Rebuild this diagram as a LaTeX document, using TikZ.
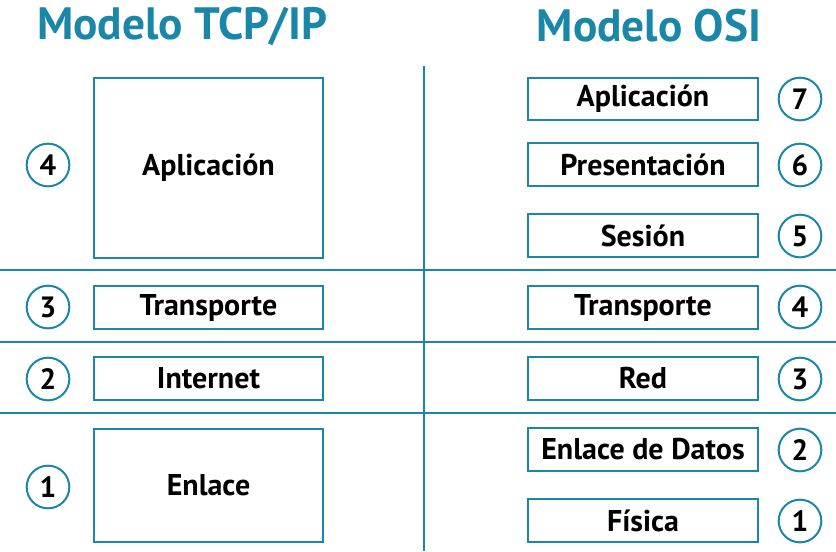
\documentclass[tikz,border=0pt]{standalone}
\usepackage{fontspec}
\setmainfont{PT Sans}
\usepackage{tikz}
\usetikzlibrary{positioning}
\definecolor{tcpblue}{HTML}{1B87A8}
\definecolor{ink}{HTML}{000000}
\tikzset{
  layer/.style ={draw=tcpblue, line width=1.5pt, fill=white,
                 minimum width=172pt, minimum height=32pt, inner sep=0pt,
                 font=\fontsize{22.5}{26}\selectfont\bfseries, text=ink},
  num/.style   ={circle, draw=tcpblue, line width=1.5pt, minimum size=32pt,
                 inner sep=0pt, font=\fontsize{22}{26}\selectfont\bfseries, text=ink},
  title/.style ={font=\fontsize{34}{40}\selectfont\bfseries, text=tcpblue},
  divider/.style={draw=tcpblue, line width=1.5pt}
}
\begin{document}
\begin{tikzpicture}[x=0.75pt, y=-0.75pt]
  \useasboundingbox (0,0) rectangle (836,551);
  % dividers
  \draw[divider] (424,66) -- (424,551);
  \draw[divider] (0,270) -- (836,270);
  \draw[divider] (0,342) -- (836,342);
  \draw[divider] (0,413) -- (836,413);
  % titles
  \node[title] (tcpt) at (182,26) {Modelo TCP/IP};
  \node[title] (osit) at (649,26) {Modelo OSI};
  % TCP/IP
  \node[layer, minimum height=135pt] (tapp) at (208.5,168) {Aplicación};
  \node[layer] (ttra) at (208.5,307.5) {Transporte};
  \node[layer] (tint) at (208.5,378.5) {Internet};
  \node[layer, minimum height=85pt] (tenl) at (208.5,485.5) {Enlace};
  \node[num] (tn4) at (48,165) {4};
  \node[num] (tn3) at (48,307) {3};
  \node[num] (tn2) at (48,379) {2};
  \node[num] (tn1) at (48,487) {1};
  % OSI
  \node[layer] (oapp) at (643,99) {Aplicación};
  \node[layer] (opre) at (643,164.5) {Presentación};
  \node[layer] (oses) at (643,235.5) {Sesión};
  \node[layer] (otra) at (643,307.5) {Transporte};
  \node[layer] (ored) at (643,378.5) {Red};
  \node[layer] (oenl) at (643,449.5) {Enlace de Datos};
  \node[layer] (ofis) at (643,520.5) {Física};
  \node[num] (on7) at (800,99) {7};
  \node[num] (on6) at (800,165) {6};
  \node[num] (on5) at (800,236) {5};
  \node[num] (on4) at (800,307) {4};
  \node[num] (on3) at (800,379) {3};
  \node[num] (on2) at (800,450) {2};
  \node[num] (on1) at (800,521) {1};
\end{tikzpicture}
\end{document}
